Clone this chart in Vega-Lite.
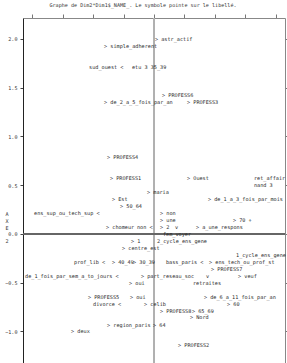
{
  "$schema": "https://vega.github.io/schema/vega-lite/v6.json",
  "width": 262,
  "height": 350,
  "autosize": {"type": "none"},
  "padding": {"left": 23, "top": 18, "right": 2, "bottom": 0},
  "background": "white",
  "title": {
    "text": "Graphe de Dim2*Dim1$_NAME_.  Le symbole pointe sur le libellé.",
    "font": "DejaVu Sans Mono",
    "fontSize": 5.1,
    "fontWeight": "normal",
    "color": "#333",
    "anchor": "middle",
    "offset": 5,
    "dx": -11
  },
  "config": {"view": {"stroke": null}, "font": "DejaVu Sans Mono"},
  "data": {
    "values": [
      {"x": 0.016, "y": 2.0, "label": "> astr_actif"},
      {"x": -0.822, "y": 1.929, "label": "> simple_adherent"},
      {"x": -1.069, "y": 1.714, "label": "sud_ouest <"},
      {"x": -0.362, "y": 1.714, "label": "etu 3 35_39"},
      {"x": 0.132, "y": 1.429, "label": "> PROFESS6"},
      {"x": -0.822, "y": 1.357, "label": "> de_2_a_5_fois_par_an"},
      {"x": 0.543, "y": 1.357, "label": "> PROFESS3"},
      {"x": -0.773, "y": 0.786, "label": "> PROFESS4"},
      {"x": -0.724, "y": 0.571, "label": "> PROFESS1"},
      {"x": 0.543, "y": 0.571, "label": "> Ouest"},
      {"x": 1.645, "y": 0.571, "label": "ret_affair"},
      {"x": 1.645, "y": 0.5, "label": "nand 3"},
      {"x": -0.115, "y": 0.429, "label": "> maria"},
      {"x": -0.691, "y": 0.357, "label": "> Est"},
      {"x": 0.888, "y": 0.357, "label": "> de_1_a_3_fois_par_mois"},
      {"x": -0.559, "y": 0.286, "label": "> 50_64"},
      {"x": -1.974, "y": 0.214, "label": "ens_sup_ou_tech_sup <"},
      {"x": 0.099, "y": 0.214, "label": "> non"},
      {"x": 0.099, "y": 0.143, "label": "> une"},
      {"x": 1.299, "y": 0.143, "label": "> 70 +"},
      {"x": -0.789, "y": 0.071, "label": "> chomeur"},
      {"x": -0.28, "y": 0.071, "label": "non <"},
      {"x": 0.099, "y": 0.071, "label": "> 2"},
      {"x": 0.345, "y": 0.071, "label": "v"},
      {"x": 0.691, "y": 0.071, "label": "> a_une_respons"},
      {"x": 0.148, "y": 0.0, "label": "fem_voyer"},
      {"x": -0.378, "y": -0.071, "label": "> 1"},
      {"x": 0.049, "y": -0.071, "label": "2_cycle_ens_gene"},
      {"x": -0.526, "y": -0.143, "label": "> centre_est"},
      {"x": 1.349, "y": -0.214, "label": "1_cycle_ens_gene"},
      {"x": -1.316, "y": -0.286, "label": "prof_lib <"},
      {"x": -0.691, "y": -0.286, "label": "> 40_49"},
      {"x": -0.345, "y": -0.286, "label": "> 30_39"},
      {"x": 0.197, "y": -0.286, "label": "bass_paris <"},
      {"x": 0.905, "y": -0.286, "label": "> ens_tech_ou_prof_st"},
      {"x": 0.938, "y": -0.357, "label": "> PROFESS7"},
      {"x": -2.122, "y": -0.429, "label": "de_1_fois_par_sem_a_to_jours <"},
      {"x": -0.214, "y": -0.429, "label": "> part_reseau_soc"},
      {"x": 0.855, "y": -0.429, "label": "v"},
      {"x": 1.382, "y": -0.429, "label": "> veuf"},
      {"x": -0.411, "y": -0.5, "label": "> oui"},
      {"x": 0.641, "y": -0.5, "label": "retraites"},
      {"x": -1.086, "y": -0.643, "label": "> PROFESS5"},
      {"x": -0.395, "y": -0.643, "label": "> oui"},
      {"x": 0.822, "y": -0.643, "label": "> de_6_a_11_fois_par_an"},
      {"x": -1.003, "y": -0.714, "label": "divorce <"},
      {"x": -0.164, "y": -0.714, "label": "> celib"},
      {"x": 1.201, "y": -0.714, "label": "> 60"},
      {"x": 0.099, "y": -0.786, "label": "> PROFESS8"},
      {"x": 0.625, "y": -0.786, "label": "> 65_69"},
      {"x": 0.592, "y": -0.857, "label": "> Nord"},
      {"x": -0.773, "y": -0.929, "label": "> region_paris"},
      {"x": -0.016, "y": -0.929, "label": "> 64"},
      {"x": -1.365, "y": -1.0, "label": "> deux"},
      {"x": 0.395, "y": -1.143, "label": "> PROFESS2"}
    ]
  },
  "resolve": {"axis": {"x": "independent", "y": "independent"}},
  "layer": [
    {
      "mark": {"type": "rule", "color": "#b0b0b0", "strokeWidth": 1},
      "encoding": {
        "x": {"datum": 0, "type": "quantitative",
          "scale": {"domain": [-2.155, 2.155], "nice": false, "zero": false},
          "axis": {"orient": "bottom", "labels": false, "ticks": false, "domainColor": "#555", "title": null}}
      }
    },
    {
      "mark": {"type": "rule", "color": "#666", "strokeWidth": 1},
      "encoding": {
        "y": {"datum": 0, "type": "quantitative",
          "scale": {"domain": [-1.375, 2.215], "nice": false, "zero": false},
          "axis": {"orient": "right", "values": [-1, -0.5, 0, 0.5, 1, 1.5, 2], "labels": false, "tickSize": 3, "tickColor": "#777", "domainColor": "#888", "grid": false,
            "title": "2", "titleAngle": 0, "titleFont": "DejaVu Sans Mono", "titleFontSize": 5.1, "titleFontWeight": "normal", "titleColor": "#333", "titleAlign": "center", "titleBaseline": "alphabetic", "titleX": -278.5, "titleY": 224.5}}
      }
    },
    {
      "mark": {"type": "text", "align": "left", "baseline": "middle", "font": "DejaVu Sans Mono", "fontSize": 5.2, "color": "#2a2a2a"},
      "encoding": {
        "x": {"field": "x", "type": "quantitative",
          "scale": {"domain": [-2.155, 2.155], "nice": false, "zero": false},
          "axis": {"orient": "top", "values": [-2, -1.5, -1, -0.5, 0, 0.5, 1, 1.5, 2], "labels": false, "tickSize": 4, "tickColor": "#777", "domainColor": "#888", "title": null, "grid": false}},
        "y": {"field": "y", "type": "quantitative",
          "scale": {"domain": [-1.375, 2.215], "nice": false, "zero": false},
          "axis": {"orient": "left", "values": [-1, -0.5, 0, 0.5, 1, 1.5, 2], "format": ".1f", "tickSize": 3, "labelPadding": 3, "labelFont": "DejaVu Sans Mono", "labelFontSize": 5.1, "labelColor": "#333", "tickColor": "#444", "domainColor": "#222", "grid": false,
            "title": ["A", "X", "E"], "titleAngle": 0, "titleFont": "DejaVu Sans Mono", "titleFontSize": 5.1, "titleFontWeight": "normal", "titleColor": "#333", "titleLineHeight": 6.8, "titleAlign": "center", "titleBaseline": "alphabetic", "titleX": -16.5, "titleY": 197.5}},
        "text": {"field": "label", "type": "nominal"}
      }
    }
  ]
}
